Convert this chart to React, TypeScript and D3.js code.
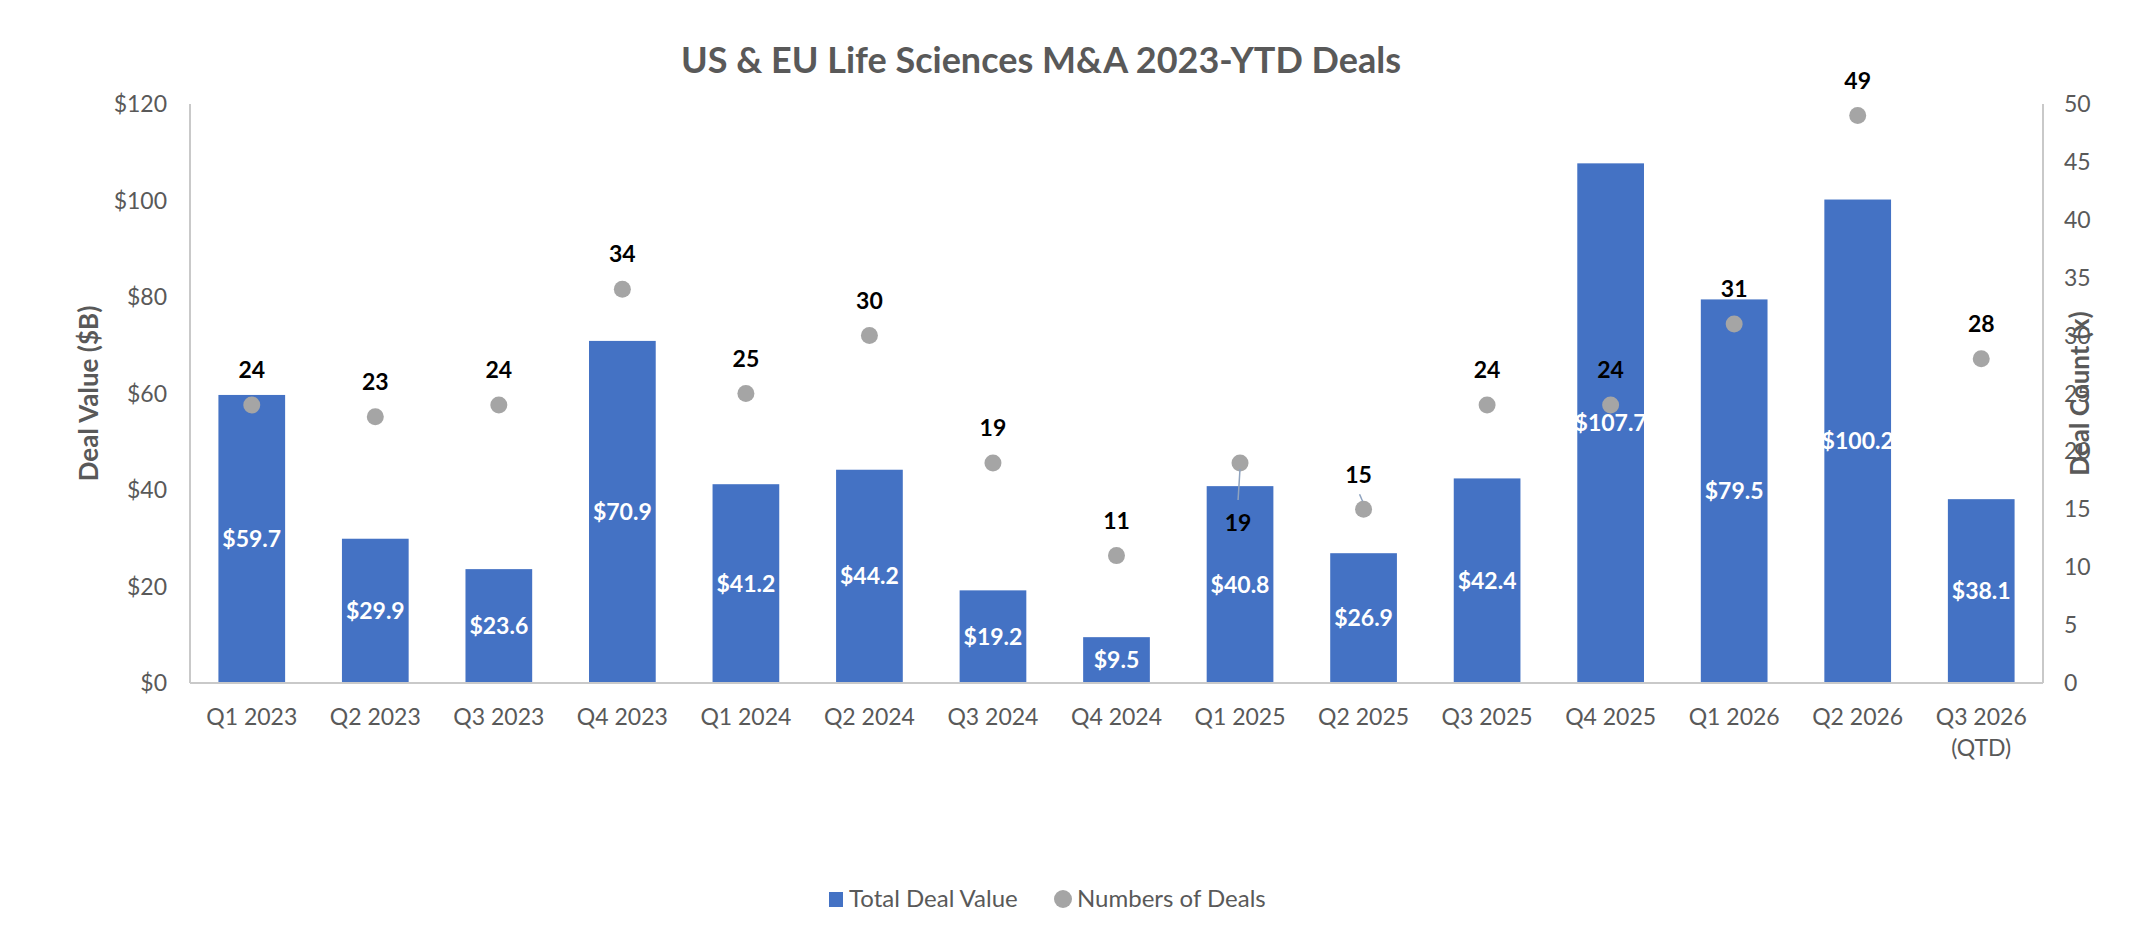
import React from "react";
import * as d3 from "d3";

const categories = [
  "Q1 2023", "Q2 2023", "Q3 2023", "Q4 2023",
  "Q1 2024", "Q2 2024", "Q3 2024", "Q4 2024",
  "Q1 2025", "Q2 2025", "Q3 2025", "Q4 2025",
  "Q1 2026", "Q2 2026", "Q3 2026 (QTD)",
];
const dealValues = [59.7, 29.9, 23.6, 70.9, 41.2, 44.2, 19.2, 9.5, 40.8, 26.9, 42.4, 107.7, 79.5, 100.2, 38.1];
const dealCounts = [24, 23, 24, 34, 25, 30, 19, 11, 19, 15, 24, 24, 31, 49, 28];
const leftTicks = [0, 20, 40, 60, 80, 100, 120];
const rightTicks = [0, 5, 10, 15, 20, 25, 30, 35, 40, 45, 50];

const W = 2146;
const H = 936;
const M = { left: 190, right: 2043, top: 104, bottom: 683 };
const FONT = "Lato, 'Open Sans', sans-serif";
const GREY_TEXT = "#595959";
const BAR = "#4472C4";
const DOT = "#A5A5A5";
const AXIS = "#C9C9C9";

// label placement tweaks (Excel-moved labels)
const labelOffsets: Record<string, { dx: number; dy: number; leader?: boolean }> = {
  "Q1 2025": { dx: -2, dy: 60, leader: true },
  "Q2 2025": { dx: -5, dy: -34, leader: true },
};

export default function App() {
  const x = d3
    .scaleBand<string>()
    .domain(categories)
    .range([M.left, M.right])
    .paddingInner(0.46)
    .paddingOuter(0.23);
  const yL = d3.scaleLinear().domain([0, 120]).range([M.bottom, M.top]);
  const yR = d3.scaleLinear().domain([0, 50]).range([M.bottom, M.top]);
  const bw = x.bandwidth();

  return (
    <div style={{ position: "absolute", left: 0, top: 0 }}>
      <svg width={W} height={H} style={{ display: "block", background: "#fff" }} fontFamily={FONT}>
        <rect x={0} y={0} width={W} height={H} fill="#fff" />
        {/* title */}
        <text x={1041} y={59} textAnchor="middle" dominantBaseline="central" fontSize={36} fontWeight={700} fill={GREY_TEXT}>
          US &amp; EU Life Sciences M&amp;A 2023-YTD Deals
        </text>

        {/* left axis ticks */}
        {leftTicks.map((t) => (
          <text key={"l" + t} x={167} y={yL(t)} textAnchor="end" dy="0.35em" fontSize={23} fill={GREY_TEXT}>
            {"$" + t}
          </text>
        ))}
        {/* right axis ticks */}
        {rightTicks.map((t) => (
          <text key={"r" + t} x={2064} y={yR(t)} textAnchor="start" dy="0.35em" fontSize={23} fill={GREY_TEXT}>
            {t}
          </text>
        ))}

        {/* axis titles */}
        <text transform={`translate(89,${(M.top + M.bottom) / 2}) rotate(-90)`} textAnchor="middle" dy="0.35em" fontSize={26} fontWeight={700} fill={GREY_TEXT}>
          Deal Value ($B)
        </text>
        <text transform={`translate(2080,${(M.top + M.bottom) / 2}) rotate(-90)`} textAnchor="middle" dy="0.35em" fontSize={26} fontWeight={700} fill={GREY_TEXT}>
          Deal Count (x)
        </text>

        {/* bars */}
        {categories.map((c, i) => (
          <rect key={"b" + c} x={x(c)} y={yL(dealValues[i])} width={bw} height={yL(0) - yL(dealValues[i])} fill={BAR} />
        ))}

        {/* axis lines */}
        <line x1={M.left} x2={M.left} y1={M.top} y2={M.bottom} stroke={AXIS} strokeWidth={2} />
        <line x1={M.right} x2={M.right} y1={M.top} y2={M.bottom} stroke={AXIS} strokeWidth={2} />
        <line x1={M.left} x2={M.right} y1={M.bottom} y2={M.bottom} stroke={AXIS} strokeWidth={2} />

        {/* bar value labels */}
        {categories.map((c, i) => (
          <text key={"v" + c} x={(x(c) as number) + bw / 2} y={(yL(dealValues[i]) + yL(0)) / 2} textAnchor="middle" dy="0.35em" fontSize={23} fontWeight={700} fill="#fff">
            {"$" + dealValues[i].toFixed(1)}
          </text>
        ))}

        {/* dots */}
        {categories.map((c, i) => (
          <circle key={"d" + c} cx={(x(c) as number) + bw / 2} cy={yR(dealCounts[i])} r={8.5} fill={DOT} />
        ))}

        {/* leader lines */}
        {categories.map((c, i) => {
          const o = labelOffsets[c];
          if (!o || !o.leader) return null;
          const cx = (x(c) as number) + bw / 2;
          const cy = yR(dealCounts[i]);
          const ly = cy + o.dy;
          if (o.dy > 0) {
            return <line key={"ll" + c} x1={cx} y1={cy + 6} x2={cx + o.dx} y2={ly - 23} stroke="#8FA3BF" strokeWidth={1.5} />;
          }
          return <line key={"ll" + c} x1={cx + o.dx + 1} y1={ly + 19} x2={cx - 1} y2={cy - 8} stroke="#8FA3BF" strokeWidth={1.5} />;
        })}

        {/* count labels */}
        {categories.map((c, i) => {
          const o = labelOffsets[c] || { dx: 0, dy: -35 };
          return (
            <text key={"c" + c} x={(x(c) as number) + bw / 2 + o.dx} y={yR(dealCounts[i]) + o.dy} textAnchor="middle" dy="0.35em" fontSize={23} fontWeight={700} fill="#000">
              {dealCounts[i]}
            </text>
          );
        })}

        {/* x labels */}
        {categories.map((c) => {
          const parts = c.includes("(") ? [c.slice(0, c.indexOf(" (")), c.slice(c.indexOf("("))] : [c];
          return (
            <text key={"x" + c} x={(x(c) as number) + bw / 2} y={717} textAnchor="middle" fontSize={23} fill={GREY_TEXT}>
              {parts.map((p, j) => (
                <tspan key={j} x={(x(c) as number) + bw / 2} dy={j === 0 ? "0.35em" : 31}>
                  {p}
                </tspan>
              ))}
            </text>
          );
        })}

        {/* legend */}
        <rect x={829} y={892} width={14} height={15} fill={BAR} />
        <text x={849} y={899} dy="0.35em" fontSize={24} fill={GREY_TEXT}>Total Deal Value</text>
        <circle cx={1063} cy={899} r={9} fill={DOT} />
        <text x={1077} y={899} dy="0.35em" fontSize={24} fill={GREY_TEXT}>Numbers of Deals</text>
      </svg>
    </div>
  );
}
